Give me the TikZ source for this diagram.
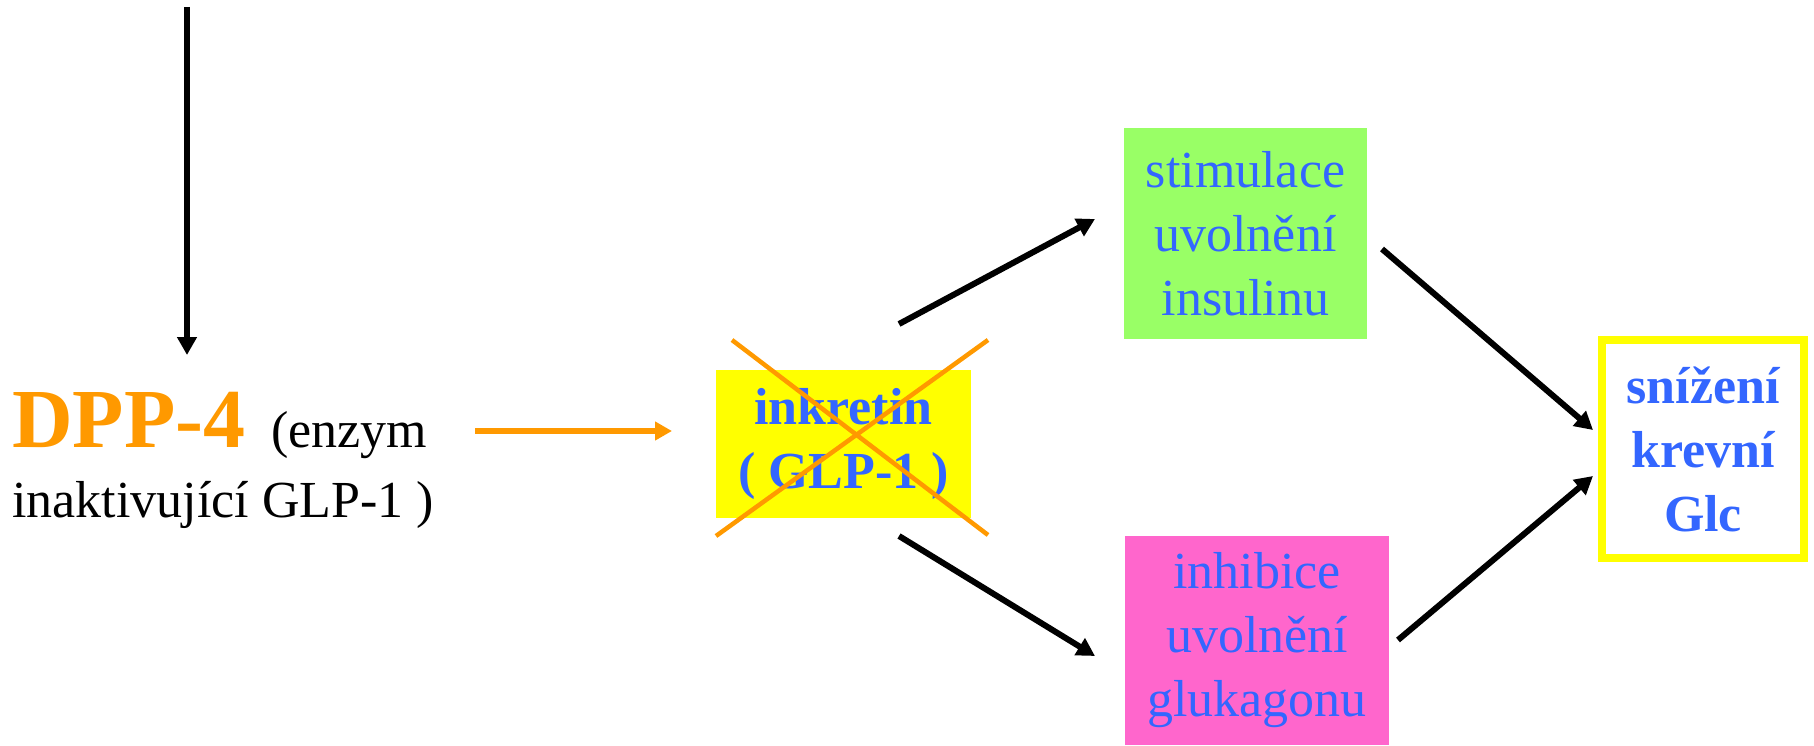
\documentclass[tikz,border=0pt]{standalone}
\usepackage{fontspec}
\setmainfont{Liberation Serif}
\usetikzlibrary{arrows.meta}
\definecolor{dppor}{HTML}{FF9900}
\definecolor{txtblue}{HTML}{3366FF}
\definecolor{boxyellow}{HTML}{FFFF00}
\definecolor{boxgreen}{HTML}{99FF66}
\definecolor{boxpink}{HTML}{FF66CC}
\tikzset{
  blkarrow/.style={draw=black, line width=6pt, -{Triangle[length=18pt,width=19pt]}},
  orarrow/.style={draw=dppor, line width=5.5pt, -{Triangle[length=17pt,width=18pt]}},
  crossline/.style={draw=dppor, line width=4.5pt},
  boxtext/.style={inner sep=0pt, align=center, text=txtblue, font=\fontsize{52}{64}\selectfont},
  boldboxtext/.style={boxtext, font=\fontsize{52}{64}\selectfont\bfseries},
}
\begin{document}
\begin{tikzpicture}[x=1pt,y=-1pt]
\useasboundingbox (0,0) rectangle (1814,746);
% vertical arrow
\coordinate (vtop) at (187,7);
\node[inner sep=0pt, anchor=base west, text=black, font=\fontsize{52}{64}\selectfont] (dpp) at (12,447)
  {{\fontsize{84}{90}\selectfont\bfseries\color{dppor}DPP-4}\ \ (enzym};
\node[inner sep=0pt, anchor=base west, text=black, font=\fontsize{52}{64}\selectfont] (dpp2) at (12,517)
  {inaktivující GLP-1 )};
\coordinate (vbot) at (187,355);
\draw[blkarrow] (vtop) -- (vbot);
% boxes
\node[boldboxtext, fill=boxyellow, minimum width=255pt, minimum height=148pt] (ink) at (843.5,444)
  {inkretin\\( GLP-1 )};
\node[boxtext, fill=boxgreen, minimum width=243pt, minimum height=211pt] (stim) at (1245.5,233.5)
  {stimulace\\uvolnění\\insulinu};
\node[boxtext, fill=boxpink, minimum width=264pt, minimum height=209pt] (inh) at (1257,640.5)
  {inhibice\\uvolnění\\glukagonu};
\node[boldboxtext, draw=boxyellow, line width=8pt, fill=white, minimum width=202pt, minimum height=218pt] (glc) at (1703,449)
  {snížení\\krevní\\Glc};
% cross
\coordinate (x1) at (732,340);
\coordinate (x2) at (988,535);
\coordinate (x3) at (716,536);
\coordinate (x4) at (988,340);
\draw[crossline] (x1) -- (x2);
\draw[crossline] (x3) -- (x4);
% orange arrow
\coordinate (oa) at (475,431);
\coordinate (ob) at (672,431);
\draw[orarrow] (oa) -- (ob);
% black arrows
\coordinate (a1) at (899,324);
\coordinate (a2) at (1095,219);
\coordinate (b1) at (899,536);
\coordinate (b2) at (1095,656);
\coordinate (c1) at (1382,249);
\coordinate (c2) at (1593,430);
\coordinate (d1) at (1398,640);
\coordinate (d2) at (1593,476);
\draw[blkarrow] (a1) -- (a2);
\draw[blkarrow] (b1) -- (b2);
\draw[blkarrow] (c1) -- (c2);
\draw[blkarrow] (d1) -- (d2);
\end{tikzpicture}
\end{document}
